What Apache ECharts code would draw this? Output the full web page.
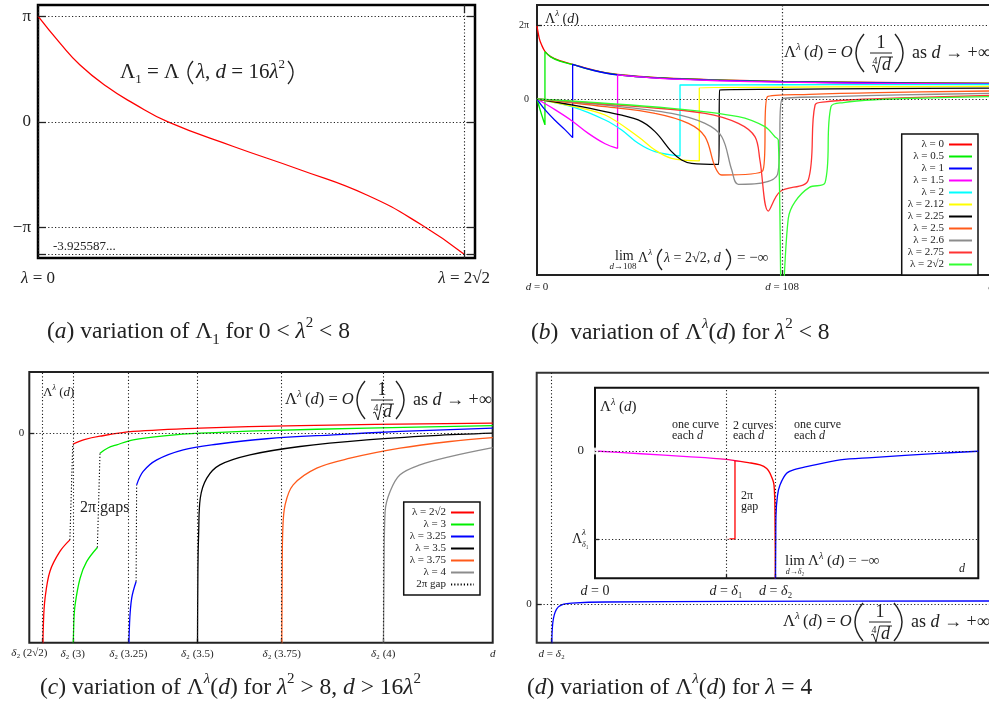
<!DOCTYPE html>
<html>
<head>
<meta charset="utf-8">
<script src="https://cdn.jsdelivr.net/npm/echarts@6/dist/echarts.min.js"></script>
<style>
html, body { margin: 0; padding: 0; background: #fff; }
#main { width: 989px; height: 704px; }
</style>
</head>
<body>
<div id="main"></div>
<script>
var F = '"Liberation Serif", "DejaVu Serif", serif';
var INK = '#222';
var PI = Math.PI;

// ---- (a) Lambda_1 against lambda
var aLambda = [0, 0.146, 0.279, 0.456, 0.633, 0.863, 1.297, 1.739, 2.182, 2.547, 2.828];
var aValue = [3.1416, 2.34, 1.69, 1.05, 0.55, 0.0, -0.73, -1.42, -2.17, -3.06, -3.9256];
var aLevels = [PI, 0, -PI, -3.925587];
var aLevelLabels = ['π', '0', '−π'];
var aLambdaTicks = [0, 2 * Math.SQRT2];
var aLambdaLabels = ['{i|λ}{n| = 0}', '{i|λ}{n| = 2√2}'];

// ---- (b) Lambda^lambda(d), lambda^2 < 8
var bNames = ['λ = 0', 'λ = 0.5', 'λ = 1', 'λ = 1.5', 'λ = 2', 'λ = 2.12', 'λ = 2.25', 'λ = 2.5', 'λ = 2.6', 'λ = 2.75', 'λ = 2√2'];
var bColors = ['#ff0000', '#00ee00', '#0000ff', '#ff00ff', '#00ffff', '#ffff00', '#000000', '#ff5a1a', '#8c8c8c', '#ff3333', '#33ff33'];
var bLam0 = [[0, 6.2], [1, 5.15], [2, 4.6], [3.5, 4.05], [6, 3.6], [10, 3.25], [15.7, 2.95], [25, 2.45], [35.5, 2.08], [50, 1.86], [64, 1.72], [80, 1.62], [108, 1.5], [150, 1.4], [200, 1.34]];
var bLam05 = [[0, 0], [1.5, -1.0], [3.5, -2.2], [3.5, 4.02], [6, 3.58], [10, 3.22], [15.7, 2.93], [25, 2.43], [35.5, 2.06], [50, 1.84], [64, 1.7], [80, 1.6], [108, 1.48], [150, 1.38], [200, 1.32]];
var bLam1 = [[0, 0], [3.5, -0.9], [7.9, -1.8], [12.3, -2.6], [15.7, -3.28], [15.7, 2.94], [25, 2.42], [35.5, 2.04], [50, 1.82], [64, 1.68], [80, 1.58], [108, 1.46], [150, 1.36], [200, 1.3]];
var bLam15 = [[0, 0], [7.9, -0.9], [15.3, -1.84], [22.6, -2.92], [30, -3.8], [35.5, -4.19], [35.5, 2.04], [50, 1.8], [64, 1.66], [80, 1.55], [108, 1.43], [150, 1.33], [200, 1.27]];
var bLam2 = [[0, 0], [15.3, -0.65], [30, -1.78], [37.3, -2.63], [44.6, -3.76], [52, -4.47], [63, -4.84], [63, 1.19], [108, 1.21], [150, 1.22], [200, 1.23]];
var bLam212 = [[0, 0], [15.3, -0.6], [30, -1.36], [44.6, -3.2], [52, -4.33], [59.3, -5.04], [71.5, -5.26], [71.5, 0.96], [108, 1.0], [150, 1.04], [200, 1.07]];
var bLam225 = [[0, 0], [15.3, -0.5], [30, -1.07], [44.6, -1.78], [52, -2.77], [59.3, -4.47], [63.7, -5.18], [68.1, -5.46], [80, -5.55], [80.5, 0.76], [108, 0.82], [150, 0.88], [200, 0.92]];
var bLam25 = [[0, 0], [30, -0.65], [52, -1.22], [66.7, -2.07], [74, -3.2], [78.4, -5.74], [81.4, -6.45], [99.4, -6.11], [101.5, 0.2], [120, 0.4], [150, 0.55], [200, 0.68]];
var bLam26 = [[0, 0], [30, -0.51], [59.3, -1.22], [74, -2.07], [81.4, -3.2], [85.8, -6.03], [88.7, -7.24], [106, -6.37], [108, 0], [130, 0.2], [160, 0.35], [200, 0.48]];
var bLam275 = [[0, 0], [44.6, -0.65], [74, -1.22], [88.7, -2.07], [96, -3.2], [98.2, -5.18], [101.9, -9.51], [107, -7.87], [119.5, -6.88], [122.5, -0.51], [127, -0.25], [140, -0.05], [160, 0.1], [200, 0.3]];
var bLam2r2 = [[0, 0], [59.3, -0.79], [88.7, -1.5], [100.4, -2.35], [104.8, -3.2], [106.3, -3.48], [108, -18], [110.7, -10.13], [113.7, -8.71], [120, -7.5], [126.9, -7.1], [129.5, -0.65], [135, -0.3], [150, -0.05], [170, 0.08], [200, 0.2]];
var bCurves = [bLam0, bLam05, bLam1, bLam15, bLam2, bLam212, bLam225, bLam25, bLam26, bLam275, bLam2r2];
var bXTicks = [0, 108, 200];
var bXLabels = ['{i|d}{n| = 0}', '{i|d}{n| = 108}', '{i|d}'];
var bLevels = [2 * PI, 0];
var bLevelLabels = ['2π', '0'];

// ---- (c) Lambda^lambda(d), lambda^2 > 8
var cNames = ['λ = 2√2\u200b', 'λ = 3', 'λ = 3.25', 'λ = 3.5', 'λ = 3.75', 'λ = 4'];
var cColors = ['#ff0000', '#00ee00', '#0000ff', '#000000', '#ff5a1a', '#8c8c8c'];
var cDelta2 = [108, 119.6, 140.8, 167.2, 199.4, 238.2];
var cXTicks = cDelta2.concat([280]);
var cXLabels = ['{i|δ}{n|₂ (2√2)}', '{i|δ}{n|₂ (3)}', '{i|δ}{n|₂ (3.25)}', '{i|δ}{n|₂ (3.5)}', '{i|δ}{n|₂ (3.75)}', '{i|δ}{n|₂ (4)}', '{i|d}'];
var c2r2Lower = [[108, -16], [108.4, -12.5], [109, -10.9], [110.9, -9.1], [114.7, -7.8], [118.5, -7.04]];
var c2r2Upper = [[119.6, -0.75], [124, -0.45], [130, -0.22], [142.7, 0.09], [168.2, 0.31], [206.4, 0.48], [280, 0.64]];
var c3Lower = [[119.6, -16], [120, -12.5], [120.5, -11.3], [122.4, -9.56], [124.9, -8.47], [129, -7.54]];
var c3Upper = [[130, -1.34], [133, -1.0], [136.4, -0.79], [142.7, -0.46], [155.5, -0.18], [168.2, -0.02], [193.7, 0.15], [231.9, 0.31], [280, 0.48]];
var c325Lower = [[140.8, -16], [141.3, -12.5], [142.1, -10.88], [143.8, -9.78]];
var c325Upper = [[144, -3.42], [146.5, -2.54], [151.7, -1.78], [161.8, -1.12], [174.6, -0.75], [193.7, -0.39], [219.1, -0.13], [244.6, 0.09], [280, 0.31]];
var c35Curve = [[167.2, -16], [167.4, -9], [167.7, -6.49], [168.3, -4.3], [170.8, -2.98], [175.8, -2.11], [187.3, -1.45], [206.4, -0.9], [231.9, -0.46], [257.3, -0.18], [280, -0.02]];
var c375Curve = [[199.4, -16], [199.6, -9], [199.8, -6.49], [200.7, -4.74], [203.8, -3.42], [212.8, -2.32], [225.5, -1.67], [244.6, -1.01], [263.7, -0.57], [280, -0.31]];
var c4Curve = [[238.2, -16], [238.5, -9], [238.9, -5.18], [240.8, -3.86], [244.6, -2.76], [252.2, -2.11], [263.7, -1.56], [280, -0.97]];
var cLowers = [c2r2Lower, c3Lower, c325Lower, null, null, null];
var cUppers = [c2r2Upper, c3Upper, c325Upper, c35Curve, c375Curve, c4Curve];
var cGapName = '2π gap';

// ---- (d) lambda = 4
var dDelta2 = 238;
var dOuterCurve = [[238, -4], [238.6, -2.4], [239.8, -1.6], [241.3, -1.15], [245, -0.6], [251.3, -0.2], [262, 0.02], [278, 0.1], [344.7, 0.18], [600, 0.23], [1120, 0.26]];
var insetDelta1 = 171;
var insetDelta2 = 235.7;
var insetLambdaDelta1 = -7.06;
var insetXTicks = [0, insetDelta1, insetDelta2];
var insetXLabels = ['{i|d}{n| = 0}', '{i|d}{n| = }{i|δ}{n|₁}', '{i|d}{n| = }{i|δ}{n|₂}'];
var insetLevels = [0, insetLambdaDelta1];
var insetUpper = [[0, 0], [60, -0.22], [120, -0.45], [171, -0.67], [182.6, -0.78], [200, -0.93], [215.4, -1.12], [224, -1.4], [228.3, -1.79], [233.5, -2.73], [234.8, -5.14], [235.3, -12]];
var insetGap = [[182.6, -0.78], [182.6, -7.06], [171, -7.06]];
var insetBlue = [[235.3, -12], [235.8, -7], [236.1, -5.14], [238, -3.6], [241.3, -2.73], [250, -1.79], [262, -1.45], [276.1, -1.26], [319.6, -0.72], [360.9, -0.53], [447.8, -0.19], [500, -0.02]];
var insetEnds = [[0, 0], [171, -7.06]];

// ---------- helpers
function rich(size) {
  var lh = Math.round(size * 1.35);
  var sm = Math.max(6, Math.round(size * 0.64));
  var slh = Math.round(lh * 0.62);
  function st(o) { o.fontFamily = F; o.fill = INK; o.color = INK; return o; }
  return {
    n: st({fontSize: size, lineHeight: lh}),
    i: st({fontSize: size, fontStyle: 'italic', lineHeight: lh}),
    s: st({fontSize: sm, lineHeight: slh, verticalAlign: 'top'}),
    si: st({fontSize: sm, fontStyle: 'italic', lineHeight: slh, verticalAlign: 'top'}),
    u: st({fontSize: sm, lineHeight: slh, verticalAlign: 'bottom'})
  };
}
function txt(x, y, s, size, align) {
  return {type: 'text', x: x, y: y, silent: true,
    style: {text: s, rich: rich(size), align: align || 'left', verticalAlign: 'middle', fontFamily: F, fontSize: size, fill: INK}};
}
function paren(x, yTop, yBot, bulge) {
  return {type: 'bezierCurve', silent: true,
    shape: {x1: x, y1: yTop, x2: x, y2: yBot, cpx1: x + bulge, cpy1: (yTop + yBot) / 2},
    style: {stroke: INK, lineWidth: 1.4, fill: 'none'}};
}
// Lambda(d) = O(1 / 4th-root d) as d -> +inf
function asymptote(x, y) {
  return [
    txt(x, y, '{n|Λ}{si|λ}{n|\u2009(}{i|d}{n|) = }{i|O}', 16.5),
    paren(x + 80, y - 19, y + 19, -16),
    txt(x + 97, y - 10, '{n|1}', 18, 'center'),
    {type: 'line', silent: true, shape: {x1: x + 86, y1: y, x2: x + 108, y2: y}, style: {stroke: INK, lineWidth: 1}},
    {type: 'polyline', silent: true, shape: {points: [[x + 88, y + 13], [x + 90, y + 12], [x + 93, y + 20], [x + 96.5, y + 4], [x + 109, y + 4]]}, style: {stroke: INK, lineWidth: 1, fill: 'none'}},
    txt(x + 91, y + 8, '{n|4}', 10, 'center'),
    txt(x + 102.5, y + 12.5, '{i|d}', 18, 'center'),
    paren(x + 111, y - 19, y + 19, 16),
    txt(x + 128, y, '{n|as }{i|d}{n| → +∞}', 18)
  ];
}
function lookup(values, labels, skip) {
  return function (v) {
    for (var k = 0; k < values.length; k++) {
      if (Math.abs(values[k] - v) < 1e-6) return k === skip ? '' : (labels[k] || '');
    }
    return '';
  };
}
function axis(opt) {
  return Object.assign({type: 'value', axisLine: {show: false, onZero: false}, splitLine: {show: false},
    axisTick: {show: false}, axisLabel: {show: false}}, opt);
}
function ticks(values, len) {
  return {show: true, inside: true, length: len, customValues: values, lineStyle: {color: INK, width: 1.3}};
}
function labels(values, texts, size, margin, skip) {
  return {show: true, customValues: values, formatter: lookup(values, texts, skip), fontFamily: F,
    hideOverlap: false, showMinLabel: true, showMaxLabel: true,
    fontSize: size, color: INK, margin: margin, rich: rich(size)};
}
function guides(xs, ys, width) {
  var data = [];
  xs.forEach(function (v) { data.push({xAxis: v}); });
  ys.forEach(function (v) { data.push({yAxis: v}); });
  return {silent: true, symbol: 'none', label: {show: false}, emphasis: {disabled: true}, animation: false,
    lineStyle: {color: INK, type: [1.2, 2.2], width: width || 1.1}, data: data};
}
function curve(name, color, data, ax, extra) {
  return Object.assign({type: 'line', name: name, data: data, xAxisIndex: ax, yAxisIndex: ax,
    symbol: 'none', smooth: 0.35, silent: true, z: 3,
    lineStyle: {color: color, width: 1.3}, itemStyle: {color: color}}, extra || {});
}

// ---------- series
var series = [];
series.push(curve('Λ1', '#ff0000', aLambda.map(function (l, k) { return [l, aValue[k]]; }), 0,
  {smooth: 0.5, markLine: guides(aLambdaTicks, aLevels, 1.1)}));

bCurves.forEach(function (d, k) {
  series.push(curve(bNames[k], bColors[k], d, 2, k === 0 ? {markLine: guides([bXTicks[1]], bLevels, 1.2)} : {}));
});

cUppers.forEach(function (up, k) {
  var low = cLowers[k];
  if (low) {
    series.push(curve(cNames[k], cColors[k], low, 3));
    series.push(curve(cGapName, '#000', [low[low.length - 1], up[0]], 3,
      {smooth: false, lineStyle: {color: '#000', width: 1.1, type: [1.2, 2]}}));
  }
  series.push(curve(cNames[k], cColors[k], up, 3, k === 0 ? {markLine: guides(cDelta2, [0], 1.1)} : {}));
});

series.push(curve('outer', '#0000ff', dOuterCurve, 4, {markLine: guides([dDelta2], [0], 1.1)}));
series.push(curve('upper', '#ff00ff', insetUpper, 5, {
  lineStyle: {width: 1.4, color: new echarts.graphic.LinearGradient(0, 0, 1, 0, [
    {offset: 0, color: '#ff00ff'}, {offset: 0.62, color: '#ff00ff'},
    {offset: 0.75, color: '#ff0060'}, {offset: 0.82, color: '#ff0000'}, {offset: 1, color: '#ff0000'}])},
  markLine: guides([insetDelta1, insetDelta2], insetLevels, 1.1)}));
series.push(curve('gap', '#ff0000', insetGap, 5, {smooth: false}));
series.push(curve('lower', '#0000ff', insetBlue, 5));
series.push({type: 'scatter', data: insetEnds, xAxisIndex: 5, yAxisIndex: 5, symbol: 'emptyCircle',
  symbolSize: 5, silent: true, z: 4, itemStyle: {color: '#fff', borderColor: '#777', borderWidth: 1}});

// ---------- text
var capA = '{n|(}{i|a}{n|) variation of Λ}{u|1}{n| for 0 < }{i|λ}{s|2}{n| < 8}';
var capB = '{n|(}{i|b}{n|)  variation of Λ}{si|λ}{n|(}{i|d}{n|) for }{i|λ}{s|2}{n| < 8}';
var capC = '{n|(}{i|c}{n|) variation of Λ}{si|λ}{n|(}{i|d}{n|) for }{i|λ}{s|2}{n| > 8, }{i|d}{n| > 16}{i|λ}{s|2}';
var capD = '{n|(}{i|d}{n|) variation of Λ}{si|λ}{n|(}{i|d}{n|) for }{i|λ}{n| = 4}';

var texts = [].concat(
  [txt(120, 72, '{n|Λ}{u|1}{n| = Λ}', 21), paren(193, 61, 84, -10),
   txt(196, 72, '{i|λ}{n|, }{i|d}{n| = 16}{i|λ}{s|2}', 21), paren(288, 61, 84, 10),
   txt(53, 247, '{n|-3.925587...}', 13)],
  [txt(545, 19, '{n|Λ}{si|λ}{n| (}{i|d}{n|)}', 14)],
  asymptote(784, 53),
  [txt(615, 256, '{n|lim}', 14), txt(623, 267, '{i|d}{n|→108}', 9, 'center'),
   txt(638, 258, '{n|Λ}{si|λ}', 14), paren(662, 249, 270, -9),
   txt(664, 258, '{i|λ}{n| = 2√2, }{i|d}', 14), paren(726, 249, 270, 9),
   txt(737, 258, '{n|= −∞}', 15)],
  [txt(43, 393, '{n|Λ}{si|λ}{n| (}{i|d}{n|)}', 13), txt(80, 508, '{n|2π gaps}', 16)],
  asymptote(285, 400),
  asymptote(783, 622),
  [txt(600, 407, '{n|Λ}{si|λ}{n| (}{i|d}{n|)}', 15),
   txt(672, 425, '{n|one curve}', 12), txt(672, 436, '{n|each }{i|d}', 12),
   txt(733, 426, '{n|2 curves}', 12), txt(733, 436, '{n|each }{i|d}', 12),
   txt(794, 425, '{n|one curve}', 12), txt(794, 436, '{n|each }{i|d}', 12),
   txt(741, 496, '{n|2π}', 12), txt(741, 507, '{n|gap}', 12),
   txt(785, 561, '{n|lim}', 15), txt(795, 572, '{i|d}{n|→}{i|δ}{n|₂}', 8, 'center'),
   txt(808, 561, '{n|Λ}{si|λ}{n| (}{i|d}{n|) = −∞}', 15),
   txt(962, 569, '{i|d}', 12, 'center'),
   txt(572, 539, '{n|Λ}', 14), txt(582, 533, '{i|λ}', 9), txt(582, 545, '{i|δ}{n|₁}', 8)],
  [txt(47, 332, capA, 23.5), txt(531, 333, capB, 23.5), txt(40, 688, capC, 23.5), txt(527, 688, capD, 23.5)]
);

function legendBox(names, right, top) {
  return {data: names, orient: 'vertical', right: right, top: top, align: 'right', selectedMode: false,
    itemWidth: 23, itemHeight: 3, itemGap: 1, padding: [5, 5, 5, 6],
    itemStyle: {opacity: 0},
    borderColor: '#111', borderWidth: 1.5, backgroundColor: '#fff', borderRadius: 0,
    textStyle: {fontFamily: F, fontSize: 11, lineHeight: 10, color: INK}};
}

var chart = echarts.init(document.getElementById('main'));
chart.setOption({
  animation: false,
  backgroundColor: '#fff',
  textStyle: {fontFamily: F},
  grid: [
    {left: 38, top: 5, width: 437, height: 253, show: true, borderColor: '#000', borderWidth: 2.5, outerBoundsMode: 'none'},
    {left: 537, top: 5, width: 454, height: 270, show: true, borderColor: '#222', borderWidth: 2, outerBoundsMode: 'none'},
    {left: 29.3, top: 372, width: 463.4, height: 270.7, show: true, borderColor: '#222', borderWidth: 2, outerBoundsMode: 'none'},
    {left: 536.7, top: 372.7, width: 456, height: 270, show: true, borderColor: '#333', borderWidth: 2, outerBoundsMode: 'none'},
    {left: 595, top: 387.7, width: 383.3, height: 190.6, show: true, borderColor: '#111', borderWidth: 2, backgroundColor: '#fff', outerBoundsMode: 'none'}
  ],
  xAxis: [
    axis({gridIndex: 0, min: 0, max: 2.9, position: 'bottom', axisTick: ticks([aLambdaTicks[1]], 8), axisLabel: labels(aLambdaTicks, aLambdaLabels, 17, 9)}),
    axis({gridIndex: 0, min: 0, max: 2.9, position: 'top', axisTick: ticks([aLambdaTicks[1]], 8)}),
    axis({gridIndex: 1, min: 0, max: 200, axisTick: ticks([bXTicks[1]], 5), axisLabel: labels(bXTicks, bXLabels, 11, 5)}),
    axis({gridIndex: 2, min: 103, max: 280, axisTick: ticks(cDelta2, 4), axisLabel: labels(cXTicks, cXLabels, 11, 4, 0)}),
    axis({gridIndex: 3, min: 208, max: 1120, axisTick: ticks([dDelta2], 4), axisLabel: labels([dDelta2], ['{i|d}{n| = }{i|δ}{n|₂}'], 11, 4)}),
    axis({gridIndex: 4, min: 0, max: 500, axisTick: ticks([insetDelta1, insetDelta2], 4), axisLabel: labels(insetXTicks, insetXLabels, 14, 4)})
  ],
  yAxis: [
    axis({gridIndex: 0, min: -4.04, max: 3.47, position: 'left', axisTick: ticks(aLevels, 8), axisLabel: labels(aLevels.slice(0, 3), aLevelLabels, 17, 7)}),
    axis({gridIndex: 0, min: -4.04, max: 3.47, position: 'right', axisTick: ticks(aLevels, 8)}),
    axis({gridIndex: 1, min: -14.94, max: 7.98, axisTick: ticks(bLevels, 5), axisLabel: labels(bLevels, bLevelLabels, 10, 8)}),
    axis({gridIndex: 2, min: -13.8, max: 4.0, axisTick: ticks([0], 5), axisLabel: labels([0], ['0'], 11, 5)}),
    axis({gridIndex: 3, min: -3, max: 18.1, axisTick: ticks([0], 5), axisLabel: labels([0], ['0'], 11, 5)}),
    axis({gridIndex: 4, min: -10.22, max: 5.08, axisTick: ticks(insetLevels, 4), axisLabel: labels([0], ['0'], 13, 11)})
  ],
  legend: [
    legendBox(bNames, 11, 134),
    legendBox(cNames.concat([cGapName]), 509, 502)
  ],
  graphic: {elements: texts},
  series: series
});

// the first delta_2 label sits left of its line so it clears its neighbour
var firstDelta = chart.convertToPixel({xAxisIndex: 3}, cDelta2[0]);
var axisBottom = chart.convertToPixel({yAxisIndex: 3}, -13.8);
chart.setOption({graphic: {elements: texts.concat([txt(firstDelta - 13, axisBottom + 10, cXLabels[0], 11, 'center')])}});
</script>
</body>
</html>
